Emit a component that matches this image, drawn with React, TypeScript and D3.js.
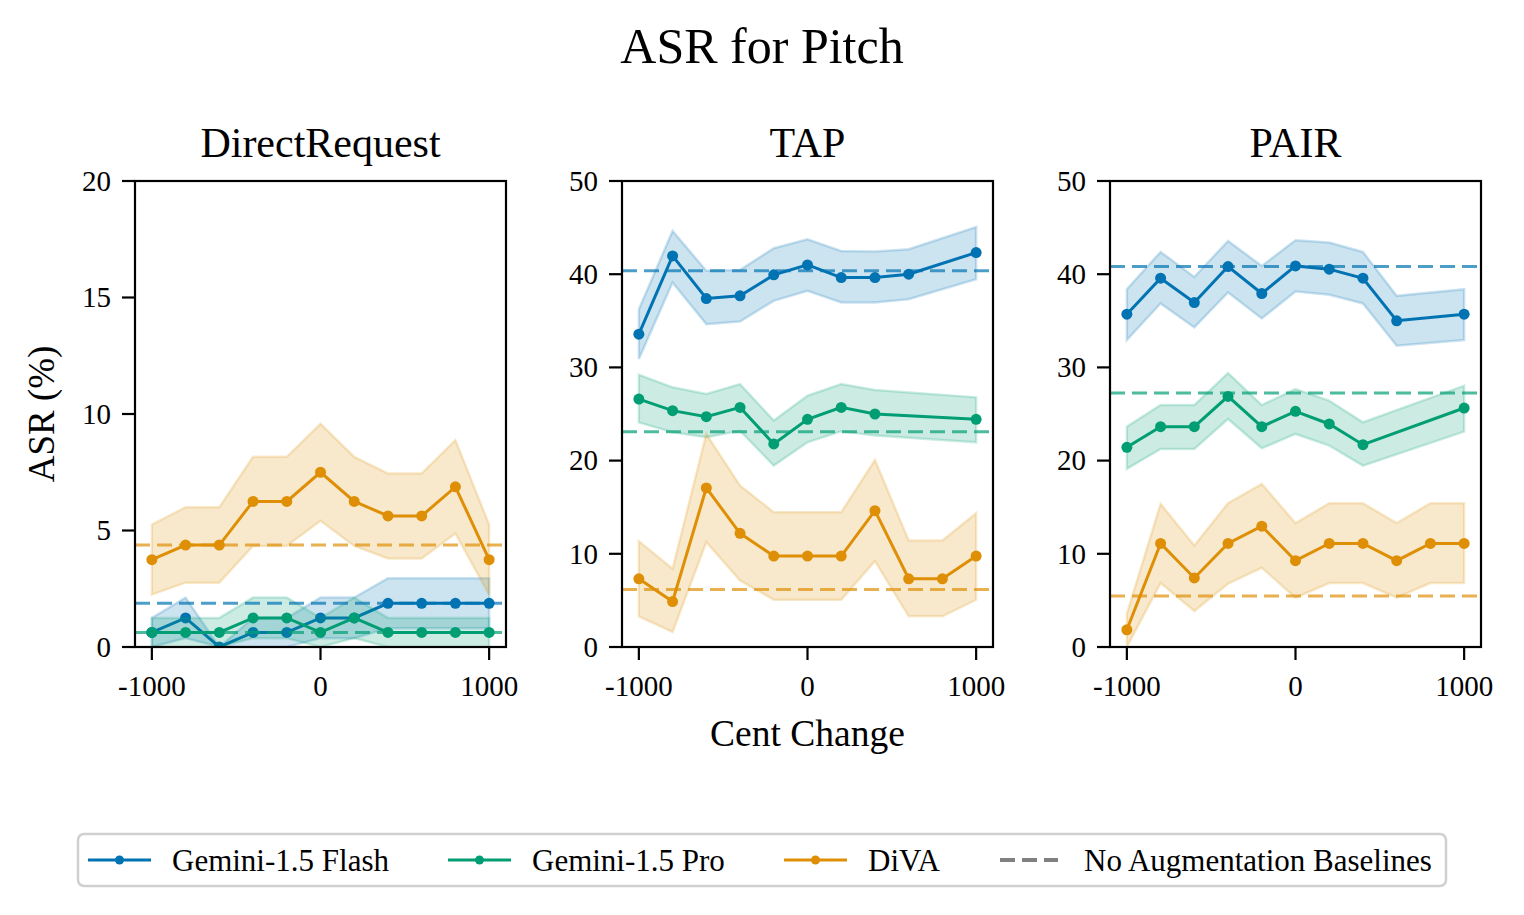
import React from "react";
import * as d3 from "d3";

// ---------- data ----------
const centChanges = [-1000, -800, -600, -400, -200, 0, 200, 400, 600, 800, 1000];
const xTicks = [-1000, 0, 1000];

const panelTitles = ["DirectRequest", "TAP", "PAIR"];
const panelYMax = [20, 50, 50];
const yTicksDR = [0, 5, 10, 15, 20];
const yTicksTP = [0, 10, 20, 30, 40, 50];

const seriesNames = ["Gemini-1.5 Flash", "Gemini-1.5 Pro", "DiVA"];
const seriesColors = ["#0173b2", "#029e73", "#de8f05"];
const baselineLabel = "No Augmentation Baselines";

// DirectRequest
const drFlash = [0.625, 1.25, 0, 0.625, 0.625, 1.25, 1.25, 1.875, 1.875, 1.875, 1.875];
const drFlashLo = [0, 0.38, 0, 0, 0, 0.38, 0.38, 0.8, 0.8, 0.8, 0.8];
const drFlashHi = [1.25, 2.12, 0, 1.25, 1.25, 2.12, 2.12, 2.95, 2.95, 2.95, 2.95];
const drPro = [0.625, 0.625, 0.625, 1.25, 1.25, 0.625, 1.25, 0.625, 0.625, 0.625, 0.625];
const drProLo = [0, 0, 0, 0.38, 0.38, 0, 0.38, 0, 0, 0, 0];
const drProHi = [1.25, 1.25, 1.25, 2.12, 2.12, 1.25, 2.12, 1.25, 1.25, 1.25, 1.25];
const drDiva = [3.75, 4.375, 4.375, 6.25, 6.25, 7.5, 6.25, 5.625, 5.625, 6.875, 3.75];
const drDivaLo = [2.25, 2.76, 2.76, 4.34, 4.34, 5.42, 4.34, 3.8, 3.8, 4.87, 2.25];
const drDivaHi = [5.25, 6.0, 6.0, 8.16, 8.16, 9.58, 8.16, 7.45, 7.45, 8.88, 5.25];
const drBaselines = [1.875, 0.625, 4.375];

// TAP
const tapFlash = [33.57, 41.96, 37.39, 37.68, 39.93, 41.0, 39.64, 39.64, 40.0, null, 42.32];
const tapFlashLo = [30.89, 39.1, 34.64, 34.93, 37.14, 38.21, 36.96, 36.96, 37.32, null, 39.46];
const tapFlashHi = [36.25, 44.64, 40.36, 40.46, 42.79, 43.75, 42.5, 42.43, 42.68, null, 45.07];
const tapPro = [26.6, 25.36, 24.71, 25.71, 21.79, 24.43, 25.71, 25.0, null, null, 24.43];
const tapProLo = [24.1, 23.04, 22.5, 23.2, 19.46, 21.96, 23.14, 22.68, null, null, 21.96];
const tapProHi = [29.21, 27.86, 27.14, 28.21, 24.29, 26.96, 28.21, 27.57, null, null, 26.79];
const tapDiva = [7.32, 4.88, 17.07, 12.2, 9.76, 9.76, 9.76, 14.63, 7.32, 7.32, 9.76];
const tapDivaLo = [3.29, 1.61, 11.25, 7.14, 5.07, 5.07, 5.07, 9.21, 3.29, 3.29, 5.07];
const tapDivaHi = [11.36, 8.39, 22.86, 17.32, 14.46, 14.46, 14.46, 20.07, 11.43, 11.43, 14.36];
const tapBaselines = [40.36, 23.1, 6.18];

// PAIR
const pairFlash = [35.71, 39.57, 36.96, 40.82, 37.93, 40.89, 40.54, 39.57, 35.0, null, 35.71];
const pairFlashLo = [32.93, 36.86, 34.29, 38.04, 35.25, 38.14, 37.79, 36.86, 32.32, null, 32.93];
const pairFlashHi = [38.39, 42.39, 39.71, 43.57, 40.89, 43.64, 43.39, 42.39, 37.68, null, 38.39];
const pairPro = [21.43, 23.64, 23.64, 26.89, 23.64, 25.29, 23.93, 21.71, null, null, 25.64];
const pairProLo = [19.11, 21.25, 21.25, 24.46, 21.32, 22.86, 21.61, 19.46, null, null, 23.11];
const pairProHi = [23.64, 25.96, 25.96, 29.39, 25.96, 27.68, 26.43, 24.11, null, null, 28.04];
const pairDiva = [1.85, 11.11, 7.41, 11.11, 12.96, 9.26, 11.11, 11.11, 9.26, 11.11, 11.11];
const pairDivaLo = [0, 6.86, 3.86, 6.79, 8.5, 5.29, 6.86, 6.86, 5.29, 6.86, 6.86];
const pairDivaHi = [3.57, 15.36, 10.89, 15.43, 17.5, 13.29, 15.43, 15.43, 13.29, 15.43, 15.43];
const pairBaselines = [40.82, 27.25, 5.46];

type S = { v: (number | null)[]; lo: (number | null)[]; hi: (number | null)[] };
const panelSeries: S[][] = [
  [
    { v: drFlash, lo: drFlashLo, hi: drFlashHi },
    { v: drPro, lo: drProLo, hi: drProHi },
    { v: drDiva, lo: drDivaLo, hi: drDivaHi },
  ],
  [
    { v: tapFlash, lo: tapFlashLo, hi: tapFlashHi },
    { v: tapPro, lo: tapProLo, hi: tapProHi },
    { v: tapDiva, lo: tapDivaLo, hi: tapDivaHi },
  ],
  [
    { v: pairFlash, lo: pairFlashLo, hi: pairFlashHi },
    { v: pairPro, lo: pairProLo, hi: pairProHi },
    { v: pairDiva, lo: pairDivaLo, hi: pairDivaHi },
  ],
];
const panelBaselines = [drBaselines, tapBaselines, pairBaselines];
const panelYTicks = [yTicksDR, yTicksTP, yTicksTP];

// ---------- layout ----------
const W = 1524;
const H = 915;
const panelLeft = [135, 622, 1110];
const PW = 371;
const PT = 181;
const PH = 466;
const FONT = "'Liberation Serif', 'Times New Roman', serif";

function Panel({ idx }: { idx: number }) {
  const x = d3.scaleLinear().domain([-1100, 1100]).range([0, PW]);
  const y = d3.scaleLinear().domain([0, panelYMax[idx]]).range([PH, 0]);
  const series = panelSeries[idx];
  const clipId = `clip-${idx}`;
  const line = d3
    .line<{ c: number; v: number }>()
    .x((d) => x(d.c))
    .y((d) => y(d.v));
  const area = d3
    .area<{ c: number; lo: number; hi: number }>()
    .x((d) => x(d.c))
    .y0((d) => y(d.lo))
    .y1((d) => y(d.hi));

  return (
    <g transform={`translate(${panelLeft[idx]},${PT})`}>
      <defs>
        <clipPath id={clipId}>
          <rect x={0} y={0} width={PW} height={PH} />
        </clipPath>
      </defs>
      <g clipPath={`url(#${clipId})`}>
        {series.map((s, si) => {
          const pts = centChanges
            .map((c, i) => ({ c, v: s.v[i], lo: s.lo[i], hi: s.hi[i] }))
            .filter((p) => p.v !== null) as { c: number; v: number; lo: number; hi: number }[];
          const col = seriesColors[si];
          return (
            <g key={si}>
              <path
                d={area(pts) || ""}
                fill={col}
                fillOpacity={0.2}
                stroke={col}
                strokeOpacity={0.2}
                strokeWidth={2.5}
              />
              <path d={line(pts) || ""} fill="none" stroke={col} strokeWidth={3} />
              {pts.map((p, pi) => (
                <circle key={pi} cx={x(p.c)} cy={y(p.v)} r={5.5} fill={col} />
              ))}
            </g>
          );
        })}
        {panelBaselines[idx].map((b, bi) => (
          <line
            key={bi}
            x1={0}
            x2={PW}
            y1={y(b)}
            y2={y(b)}
            stroke={seriesColors[bi]}
            strokeOpacity={0.7}
            strokeWidth={3}
            strokeDasharray="15 7"
          />
        ))}
      </g>
      {/* frame */}
      <rect x={0} y={0} width={PW} height={PH} fill="none" stroke="#000" strokeWidth={2.2} />
      {/* y ticks */}
      {panelYTicks[idx].map((t) => (
        <g key={t} transform={`translate(0,${y(t)})`}>
          <line x1={-13} x2={0} stroke="#000" strokeWidth={2.2} />
          <text
            x={-24}
            dy="0.34em"
            textAnchor="end"
            fontFamily={FONT}
            fontSize={29}
            fill="#000"
          >
            {t}
          </text>
        </g>
      ))}
      {/* x ticks */}
      {xTicks.map((t) => (
        <g key={t} transform={`translate(${x(t)},${PH})`}>
          <line y1={0} y2={13} stroke="#000" strokeWidth={2.2} />
          <text y={49} textAnchor="middle" fontFamily={FONT} fontSize={29} fill="#000">
            {t}
          </text>
        </g>
      ))}
      <text
        x={PW / 2}
        y={-24}
        textAnchor="middle"
        fontFamily={FONT}
        fontSize={42}
        fill="#000"
      >
        {panelTitles[idx]}
      </text>
    </g>
  );
}

function Legend() {
  const lx = 78;
  const ly = 834;
  const lw = 1368;
  const lh = 52;
  const cy = ly + lh / 2;
  const items = [
    { label: seriesNames[0], color: seriesColors[0], x0: 88, dashed: false },
    { label: seriesNames[1], color: seriesColors[1], x0: 448, dashed: false },
    { label: seriesNames[2], color: seriesColors[2], x0: 784, dashed: false },
    { label: baselineLabel, color: "#808080", x0: 1000, dashed: true },
  ];
  return (
    <g>
      <rect
        x={lx}
        y={ly}
        width={lw}
        height={lh}
        rx={6}
        fill="#fff"
        stroke="#d0d0d0"
        strokeWidth={2.5}
      />
      {items.map((it, i) => (
        <g key={i}>
          {it.dashed ? (
            <line
              x1={it.x0}
              x2={it.x0 + 58}
              y1={cy}
              y2={cy}
              stroke={it.color}
              strokeWidth={4}
              strokeDasharray="15 7"
            />
          ) : (
            <>
              <line x1={it.x0} x2={it.x0 + 63} y1={cy} y2={cy} stroke={it.color} strokeWidth={3} />
              <circle cx={it.x0 + 31.5} cy={cy} r={4.5} fill={it.color} />
            </>
          )}
          <text
            x={it.x0 + 84}
            y={cy}
            dy="0.34em"
            fontFamily={FONT}
            fontSize={31}
            fill="#000"
          >
            {it.label}
          </text>
        </g>
      ))}
    </g>
  );
}

export default function App() {
  return (
    <svg
      width={W}
      height={H}
      viewBox={`0 0 ${W} ${H}`}
      style={{ position: "absolute", left: 0, top: 0, background: "#fff" }}
    >
      <rect x={0} y={0} width={W} height={H} fill="#fff" />
      <text x={762} y={63} textAnchor="middle" fontFamily={FONT} fontSize={50} fill="#000">
        ASR for Pitch
      </text>
      {[0, 1, 2].map((i) => (
        <Panel key={i} idx={i} />
      ))}
      <text
        x={panelLeft[1] + PW / 2}
        y={746}
        textAnchor="middle"
        fontFamily={FONT}
        fontSize={37.5}
        fill="#000"
      >
        Cent Change
      </text>
      <text
        transform={`translate(54,${PT + PH / 2}) rotate(-90)`}
        textAnchor="middle"
        fontFamily={FONT}
        fontSize={37}
        fill="#000"
      >
        ASR (%)
      </text>
      <Legend />
    </svg>
  );
}
